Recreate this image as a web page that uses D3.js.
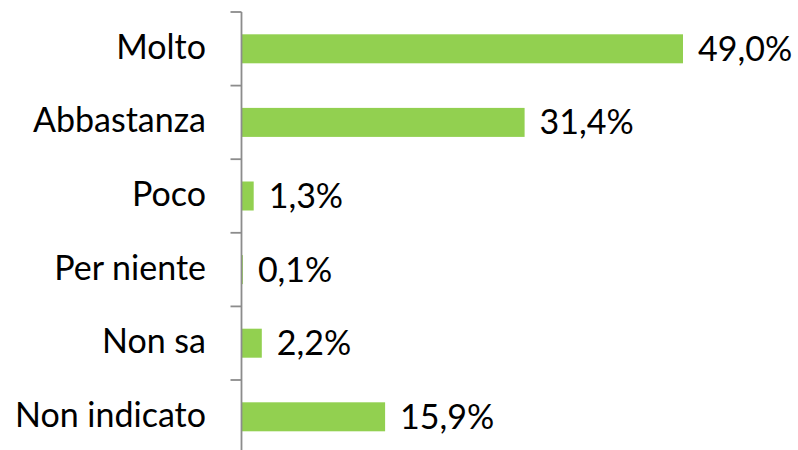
<!DOCTYPE html>
<html>
<head>
<meta charset="utf-8">
<script src="https://cdn.jsdelivr.net/npm/d3@7"></script>
<style>
  html, body { margin: 0; padding: 0; background: #fff; }
  svg { display: block; }
  text { font-family: Lato, "Open Sans", sans-serif; fill: #000; }
</style>
</head>
<body>
<script>
const categories = ["Molto", "Abbastanza", "Poco", "Per niente", "Non sa", "Non indicato"];
const values = [49.0, 31.4, 1.3, 0.1, 2.2, 15.9];
const valueLabels = ["49,0%", "31,4%", "1,3%", "0,1%", "2,2%", "15,9%"];

const W = 798, H = 450;
const svg = d3.select("body").append("svg").attr("width", W).attr("height", H);

const x0 = 242;
const x = d3.scaleLinear().domain([0, 60]).range([x0, x0 + 540]);
const y = d3.scaleBand().domain(categories).range([12, 453.6]).padding(0);
const barH = 29;
const fs = 34;

// bars
svg.selectAll("rect.bar").data(values).enter().append("rect")
  .attr("class", "bar")
  .attr("x", x(0))
  .attr("y", (d, i) => y(categories[i]) + y.bandwidth() / 2 - barH / 2)
  .attr("width", d => x(d) - x(0))
  .attr("height", barH)
  .attr("fill", "#92D050");

// axis
const axis = d3.axisLeft(y).tickSize(0).tickFormat("");
const g = svg.append("g").attr("transform", `translate(${x0 - 0.5},0)`).call(axis);
g.select(".domain").attr("stroke", "#8c8c8c").attr("stroke-width", 1.8).attr("d", `M0,12V${H + 10}`);
// boundary ticks
const bounds = categories.map(c => y(c)).concat([y.range()[1]]);
g.selectAll("line.bt").data(bounds).enter().append("line")
  .attr("class", "bt")
  .attr("x1", -11).attr("x2", 0)
  .attr("y1", d => d).attr("y2", d => d)
  .attr("stroke", "#8c8c8c").attr("stroke-width", 1.8);

// category labels
svg.selectAll("text.cat").data(categories).enter().append("text")
  .attr("class", "cat")
  .attr("x", 206)
  .attr("y", d => y(d) + y.bandwidth() / 2 + 10)
  .attr("text-anchor", "end")
  .attr("font-size", fs)
  .text(d => d);

// value labels
svg.selectAll("text.val").data(values).enter().append("text")
  .attr("class", "val")
  .attr("x", d => x(d) + 15)
  .attr("y", (d, i) => y(categories[i]) + y.bandwidth() / 2 + 12)
  .attr("text-anchor", "start")
  .attr("font-size", fs)
  .text((d, i) => valueLabels[i]);
</script>
</body>
</html>
